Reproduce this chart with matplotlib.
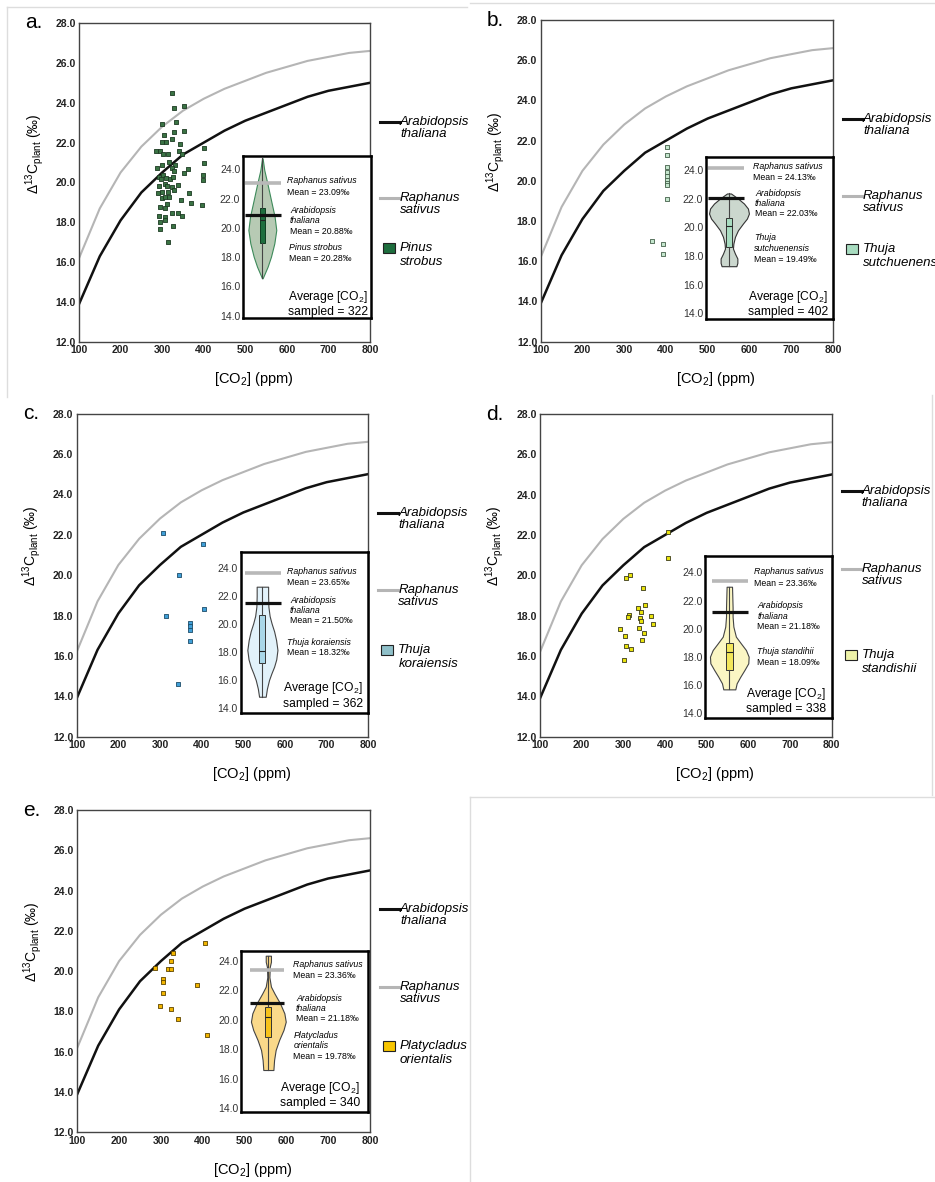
import matplotlib.pyplot as plt
from matplotlib.lines import Line2D
from matplotlib.patches import Rectangle

plt.rcParams['font.family'] = ['Liberation Sans', 'DejaVu Sans']
plt.rcParams['mathtext.fontset'] = 'custom'
plt.rcParams['mathtext.rm'] = 'Liberation Sans'
plt.rcParams['mathtext.it'] = 'Liberation Sans:italic'
plt.rcParams['mathtext.bf'] = 'Liberation Sans:bold'

# model curves
co2_grid = [100, 150, 200, 250, 300, 350, 400, 450, 500, 550, 600, 650, 700, 750, 800]
raphanus_curve = [16.2, 18.7, 20.5, 21.8, 22.8, 23.6, 24.2, 24.7, 25.1, 25.5, 25.8, 26.1, 26.3, 26.5, 26.6]
arabidopsis_curve = [13.9, 16.3, 18.1, 19.5, 20.5, 21.4, 22.0, 22.6, 23.1, 23.5, 23.9, 24.3, 24.6, 24.8, 25.0]

x_ticks = [100, 200, 300, 400, 500, 600, 700, 800]
y_ticks = [12, 14, 16, 18, 20, 22, 24, 26, 28]
inset_ticks = [14, 16, 18, 20, 22, 24]

# measured samples
pinus_co2 = [324, 328, 353, 299, 334, 304, 329, 353, 300, 309, 323, 342, 400, 285, 295, 303, 313, 340, 347, 300,
             316, 330, 401, 287, 324, 329, 363, 303, 293, 298, 310, 320, 327, 352, 399, 399, 293, 306, 312, 323,
             337, 289, 299, 313, 329, 365, 300, 308, 317, 345, 369, 397, 296, 307, 311, 323, 337, 347, 293, 306,
             308, 295, 327, 295, 315]
pinus_d13c = [24.47, 23.75, 23.85, 22.93, 23.02, 22.38, 22.55, 22.60, 22.03, 22.03, 22.18, 21.91, 21.71, 21.58,
              21.58, 21.43, 21.43, 21.58, 21.43, 20.88, 21.04, 20.88, 20.98, 20.74, 20.71, 20.59, 20.66, 20.37,
              20.29, 20.19, 20.21, 20.16, 20.29, 20.49, 20.37, 20.12, 19.82, 19.92, 19.82, 19.76, 19.87, 19.46,
              19.54, 19.54, 19.62, 19.49, 19.20, 19.25, 19.25, 19.12, 18.95, 18.87, 18.75, 18.70, 18.92, 18.49,
              18.45, 18.32, 18.34, 18.25, 18.12, 18.03, 17.82, 17.65, 17.00]

sutch_co2 = [402, 402, 402, 402, 402, 402, 402, 402, 402, 366, 394, 392]
sutch_d13c = [21.70, 21.28, 20.67, 20.42, 20.24, 20.04, 19.91, 19.79, 19.09, 16.99, 16.84, 16.36]

kor_co2 = [308, 346, 314, 402, 406, 372, 372, 372, 372, 342]
kor_d13c = [22.09, 20.00, 17.99, 21.53, 18.30, 17.62, 17.47, 17.30, 16.74, 14.59]

stand_co2 = [407, 407, 306, 316, 348, 334, 352, 342, 314, 312, 340, 366, 342, 292, 337, 370, 304, 350, 306,
             318, 345, 302]
stand_d13c = [22.13, 20.85, 19.87, 20.02, 19.38, 18.38, 18.55, 18.17, 18.05, 17.95, 17.90, 17.98, 17.73, 17.35,
              17.38, 17.57, 16.98, 17.12, 16.50, 16.35, 16.78, 15.82]

plat_co2 = [286, 328, 324, 318, 324, 306, 306, 306, 298, 324, 341, 386, 405, 411]
plat_d13c = [20.18, 20.88, 20.48, 20.12, 20.09, 19.59, 19.46, 18.93, 18.26, 18.13, 17.62, 19.29, 21.40, 16.81]

# violin outlines: level and relative half width
pinus_vlev = [16.55, 17.35, 18.03, 18.94, 19.85, 20.77, 21.9, 23.04, 23.95, 24.75]
pinus_vwid = [0.02, 0.38, 0.62, 0.86, 1.0, 0.88, 0.62, 0.36, 0.14, 0.02]
sutch_vlev = [17.29, 17.52, 17.83, 18.17, 18.52, 18.87, 19.34, 19.80, 20.27, 20.62, 20.97, 21.32, 21.67, 22.02, 22.37]
sutch_vwid = [0.37, 0.42, 0.42, 0.3, 0.2, 0.22, 0.3, 0.45, 0.7, 0.9, 1.0, 0.95, 0.75, 0.45, 0.1]
kor_vlev = [14.83, 15.4, 16.02, 16.5, 16.98, 17.5, 18.17, 18.88, 19.5, 20.07, 20.6, 21.26, 22.0, 22.69]
kor_vwid = [0.22, 0.3, 0.44, 0.6, 0.78, 0.92, 1.0, 0.91, 0.78, 0.61, 0.48, 0.4, 0.38, 0.38]
stand_vlev = [15.7, 16.13, 16.6, 17.07, 17.55, 18.02, 18.49, 18.96, 19.44, 20.15, 20.86, 21.5, 22.0, 22.5, 22.98]
stand_vwid = [0.31, 0.38, 0.57, 0.78, 0.98, 1.0, 0.86, 0.6, 0.34, 0.21, 0.17, 0.17, 0.16, 0.15, 0.14]
plat_vlev = [16.6, 17.28, 17.96, 18.64, 19.32, 19.88, 20.45, 21.13, 21.8, 22.26, 22.9, 23.6, 23.95, 24.36]
plat_vwid = [0.29, 0.33, 0.42, 0.62, 0.87, 1.0, 0.92, 0.67, 0.35, 0.15, 0.06, 0.08, 0.15, 0.15]

# box plots: q1, median, q3, low, high
pinus_box = [18.94, 20.54, 21.33, 16.55, 24.75]
sutch_box = [18.64, 20.10, 20.67, 17.29, 22.37]
kor_box = [17.21, 18.10, 20.67, 14.83, 22.69]
stand_box = [17.07, 18.33, 18.96, 15.70, 22.98]
plat_box = [18.86, 20.22, 20.90, 16.60, 24.36]

raphanus_mean = [23.09, 24.13, 23.65, 23.36, 23.36]
arabidopsis_mean = [20.88, 22.03, 21.50, 21.18, 21.18]
species_mean = [20.28, 19.49, 18.32, 18.09, 19.78]
avg_co2 = [322, 402, 362, 338, 340]
panel_letters = ['a.', 'b.', 'c.', 'd.', 'e.']
legend_names = [['Pinus', 'strobus'], ['Thuja', 'sutchuenensis'], ['Thuja', 'koraiensis'],
                ['Thuja', 'standishii'], ['Platycladus', 'orientalis']]
inset_names = [['Pinus strobus'], ['Thuja', 'sutchuenensis'], ['Thuja koraiensis'],
               ['Thuja standihii'], ['Platycladus', 'orientalis']]

W, H = 935, 1182
fig = plt.figure(figsize=(W / 100, H / 100), dpi=100)


def fbox(l, t, r, b):
    return [l / W, 1 - b / H, (r - l) / W, (b - t) / H]


def fx(x):
    return x / W


def fy(y):
    return 1 - y / H


panels = [
    dict(co2=pinus_co2, d13c=pinus_d13c, vlev=pinus_vlev, vwid=pinus_vwid, box=pinus_box,
         ax=(79, 23, 370, 342), inset=(243, 156, 371, 318.3), iylim=(13.82, 24.91),
         vx=0.151, vmax=0.109, bw=0.036, lines=(0.016, 0.297),
         tr=(0.346, 0.846), ta=(0.367, 0.663), ts=(0.362, 0.437), tavg=(0.354, 0.133),
         leg=(220, 144, 94),
         dot='#3a7344', dot_edge='#1c3a22', vface='#b7cab4', vedge='#3d8a5a',
         bface='#1e6e3e', bedge='#0e3d20', patch='#1e6e3e'),
    dict(co2=sutch_co2, d13c=sutch_d13c, vlev=sutch_vlev, vwid=sutch_vwid, box=sutch_box,
         ax=(540.7, 20, 833, 341.7), inset=(706, 157, 833, 319), iylim=(13.6, 24.92),
         vx=0.181, vmax=0.157, bw=0.052, lines=(0.018, 0.30),
         tr=(0.373, 0.944), ta=(0.386, 0.776), ts=(0.380, 0.502), tavg=(0.333, 0.138),
         leg=(223, 146, 93),
         dot='#c4e6cd', dot_edge='#44604a', vface='#cbd7ce', vedge='#333333',
         bface='#a8dcc0', bedge='#333333', patch='#a8dcc0'),
    dict(co2=kor_co2, d13c=kor_d13c, vlev=kor_vlev, vwid=kor_vwid, box=kor_box,
         ax=(76.7, 413.5, 368.3, 736.7), inset=(240.7, 551.7, 368.3, 712.7), iylim=(13.69, 25.19),
         vx=0.17, vmax=0.118, bw=0.047, lines=(0.034, 0.316),
         tr=(0.365, 0.876), ta=(0.386, 0.700), ts=(0.365, 0.437), tavg=(0.329, 0.152),
         leg=(224, 147, 87),
         dot='#3f9fd8', dot_edge='#1d4c68', vface='#e2f2fa', vedge='#444444',
         bface='#a9d7e8', bedge='#333333', patch='#8fc0c9'),
    dict(co2=stand_co2, d13c=stand_d13c, vlev=stand_vlev, vwid=stand_vwid, box=stand_box,
         ax=(540, 414, 831.7, 736.7), inset=(705.3, 556, 831.7, 717.7), iylim=(13.69, 25.16),
         vx=0.19, vmax=0.153, bw=0.052, lines=(0.05, 0.335),
         tr=(0.385, 0.903), ta=(0.411, 0.691), ts=(0.411, 0.408), tavg=(0.322, 0.147),
         leg=(246, 168, 82),
         dot='#e9e30c', dot_edge='#3a3a1a', vface='#fbf6c4', vedge='#444444',
         bface='#f3e65a', bedge='#333333', patch='#eef2a8'),
    dict(co2=plat_co2, d13c=plat_d13c, vlev=plat_vlev, vwid=plat_vwid, box=plat_box,
         ax=(77.3, 810, 370, 1132.3), inset=(241.3, 951, 368.3, 1111.7), iylim=(13.77, 24.68),
         vx=0.213, vmax=0.137, bw=0.048, lines=(0.068, 0.34),
         tr=(0.405, 0.919), ta=(0.431, 0.706), ts=(0.409, 0.477), tavg=(0.305, 0.149),
         leg=(223, 145, 86),
         dot='#f2b500', dot_edge='#5e4500', vface='#fad98a', vedge='#444444',
         bface='#f7c21a', bedge='#333333', patch='#f7c500'),
]

small = 6.3
for i, p in enumerate(panels):
    l, t, r, b = p['ax']
    ax = fig.add_axes(fbox(l, t, r, b))
    ax.plot(co2_grid, raphanus_curve, color='#b5b5b5', lw=1.5, zorder=2)
    ax.plot(co2_grid, arabidopsis_curve, color='#111111', lw=1.8, zorder=2)
    ax.scatter(p['co2'], p['d13c'], marker='s', s=8, facecolor=p['dot'],
               edgecolor=p['dot_edge'], linewidths=0.6, zorder=3)
    ax.set_xlim(100, 800)
    ax.set_ylim(12, 28)
    ax.set_xticks(x_ticks)
    ax.set_xticklabels([str(v) for v in x_ticks], fontweight='bold')
    ax.set_yticks(y_ticks)
    ax.set_yticklabels(['%.1f' % v for v in y_ticks], fontweight='bold')
    ax.tick_params(length=0, pad=2.5, labelsize=7.5, colors='#222222')
    for s in ax.spines.values():
        s.set_color('#444444')
        s.set_linewidth(1.0)
    ax.set_xlabel('[CO$_2$] (ppm)', fontsize=10.5)
    ax.xaxis.set_label_coords(0.6, -0.088)
    ax.set_ylabel('Δ$^{13}$C$_{\\rm plant}$ (‰)', fontsize=10)
    ax.yaxis.set_label_coords(-0.115, 0.59)

    fig.text(fx(l - 54), fy(t), panel_letters[i], fontsize=15, va='center')

    # legend to the right of the axes
    y_ara, y_rap, y_sp = [b - v for v in p['leg']]
    fig.add_artist(Line2D([fx(r + 10), fx(r + 30)], [fy(y_ara)] * 2, color='#111111', lw=2.2))
    fig.add_artist(Line2D([fx(r + 10), fx(r + 30)], [fy(y_rap)] * 2, color='#b5b5b5', lw=2.2))
    fig.add_artist(Rectangle((fx(r + 13), fy(y_sp + 5)), 12 / W, 10 / H, facecolor=p['patch'],
                             edgecolor='#222222', lw=0.8, transform=fig.transFigure))
    fig.text(fx(r + 30), fy(y_ara), 'Arabidopsis', style='italic', fontsize=9.5, va='center')
    fig.text(fx(r + 30), fy(y_ara + 12), 'thaliana', style='italic', fontsize=9.5, va='center')
    fig.text(fx(r + 30), fy(y_rap), 'Raphanus', style='italic', fontsize=9.5, va='center')
    fig.text(fx(r + 30), fy(y_rap + 12), 'sativus', style='italic', fontsize=9.5, va='center')
    fig.text(fx(r + 30), fy(y_sp), legend_names[i][0], style='italic', fontsize=9.5, va='center')
    fig.text(fx(r + 30), fy(y_sp + 14), legend_names[i][1], style='italic', fontsize=9.5, va='center')

    # inset with the violin
    il, it, ir, ib = p['inset']
    ins = fig.add_axes(fbox(il, it, ir, ib), zorder=5)
    c = p['vx']
    half = [w * p['vmax'] for w in p['vwid']]
    ins.fill_betweenx(p['vlev'], [c - h for h in half], [c + h for h in half],
                      facecolor=p['vface'], edgecolor=p['vedge'], lw=0.8, zorder=2)
    q1, med, q3, lo, hi = p['box']
    ins.bxp([dict(q1=q1, med=med, q3=q3, whislo=lo, whishi=hi, fliers=[])], positions=[c],
            widths=p['bw'], patch_artist=True, showcaps=False, showfliers=False, manage_ticks=False,
            boxprops=dict(facecolor=p['bface'], edgecolor=p['bedge'], lw=0.7),
            whiskerprops=dict(color='#444444', lw=0.8),
            medianprops=dict(color='#222222', lw=0.8), zorder=3)
    x0, x1 = p['lines']
    ins.plot([x0, x1], [raphanus_mean[i]] * 2, color='#b8b8b8', lw=2.6, zorder=4, solid_capstyle='butt')
    ins.plot([x0, x1], [arabidopsis_mean[i]] * 2, color='#111111', lw=2.3, zorder=4, solid_capstyle='butt')
    ins.set_xlim(0, 1)
    ins.set_ylim(*p['iylim'])
    ins.set_xticks([])
    ins.set_yticks(inset_ticks)
    ins.set_yticklabels(['%.1f' % v for v in inset_ticks])
    ins.tick_params(length=0, pad=2, labelsize=7.5, colors='#333333')
    for s in ins.spines.values():
        s.set_color('black')
        s.set_linewidth(1.8)

    tx, ty = p['tr']
    ins.text(tx, ty, 'Raphanus sativus', style='italic', fontsize=small, va='center', transform=ins.transAxes)
    ins.text(tx, ty - 0.07, 'Mean = %.2f‰' % raphanus_mean[i], fontsize=small, va='center',
             transform=ins.transAxes)
    tx, ty = p['ta']
    ins.text(tx, ty, 'Arabidopsis', style='italic', fontsize=small, va='center', transform=ins.transAxes)
    ins.text(tx, ty - 0.063, 'thaliana', style='italic', fontsize=small, va='center', transform=ins.transAxes)
    ins.text(tx, ty - 0.126, 'Mean = %.2f‰' % arabidopsis_mean[i], fontsize=small, va='center',
             transform=ins.transAxes)
    tx, ty = p['ts']
    for k, name in enumerate(inset_names[i]):
        ins.text(tx, ty - 0.068 * k, name, style='italic', fontsize=small, va='center', transform=ins.transAxes)
    ins.text(tx, ty - 0.066 * len(inset_names[i]), 'Mean = %.2f‰' % species_mean[i], fontsize=small,
             va='center', transform=ins.transAxes)
    tx, ty = p['tavg']
    ins.text(tx, ty, 'Average [CO$_2$]', fontsize=8.7, va='center', transform=ins.transAxes)
    ins.text(tx, ty - 0.096, 'sampled = %d' % avg_co2[i], fontsize=8.7, va='center', transform=ins.transAxes)

# faint panel frames
for seg in [((7, 7), (467, 7)), ((7, 7), (7, 397)), ((470, 3), (935, 3)), ((932, 395), (932, 795)),
            ((470, 797), (935, 797)), ((470, 797), (470, 1182))]:
    (xa, ya), (xb, yb) = seg
    fig.add_artist(Line2D([fx(xa), fx(xb)], [fy(ya), fy(yb)], color='#dddddd', lw=1.0))

fig.savefig('out.png', dpi=100)
